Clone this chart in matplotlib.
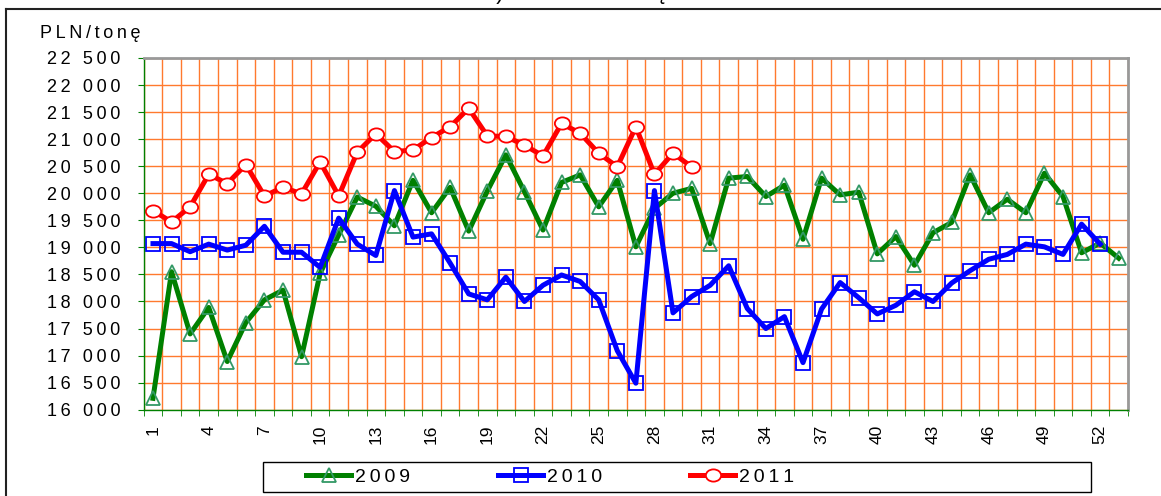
import matplotlib
matplotlib.use('Agg')
import matplotlib.pyplot as plt
from matplotlib.lines import Line2D
from matplotlib.patches import Rectangle
from matplotlib.path import Path
from matplotlib.transforms import Affine2D
from matplotlib.ticker import FixedLocator, FuncFormatter

plt.rcParams['font.family'] = ['Liberation Sans', 'DejaVu Sans']

# weekly prices, PLN per tonne
weeks_2009 = list(range(1, 54))
prices_2009 = [16210, 18550, 17400, 17890, 16890, 17610, 18030, 18210, 16980, 18520,
               19230, 19930, 19760, 19400, 20240, 19640, 20110, 19300, 20040, 20710,
               20030, 19320, 20200, 20340, 19750, 20240, 19010, 19720, 20000, 20090,
               19070, 20280, 20310, 19940, 20150, 19150, 20280, 19970, 20020, 18880,
               19200, 18670, 19270, 19460, 20340, 19640, 19890, 19640, 20370, 19940,
               18900, 19080, 18800]
weeks_2010 = list(range(1, 53))
prices_2010 = [19070, 19070, 18920, 19060, 18950, 19040, 19390, 18910, 18910, 18630,
               19540, 19060, 18850, 20050, 19190, 19250, 18710, 18140, 18030, 18450,
               18000, 18300, 18490, 18370, 18030, 17090, 16490, 20050, 17790, 18090,
               18300, 18660, 17870, 17500, 17720, 16870, 17860, 18350, 18070, 17770,
               17930, 18180, 18000, 18340, 18570, 18780, 18870, 19060, 19010, 18870,
               19430, 19060]
weeks_2011 = list(range(1, 31))
prices_2011 = [19680, 19470, 19750, 20350, 20180, 20530, 19950, 20110, 19990, 20580,
               19950, 20760, 21100, 20770, 20800, 21030, 21230, 21570, 21060, 21050,
               20890, 20690, 21290, 21110, 20740, 20490, 21230, 20350, 20740, 20490]
series_labels = ['2009', '2010', '2011']
x_tick_weeks = list(range(1, 54, 3))
y_ticks = list(range(16000, 22501, 500))

THIN = '\u2009'


def spaced(s):
    return THIN.join(s)


def price_label(v, pos):
    return spaced(f'{int(v):,}'.replace(',', ' '))


W, H = 1161, 496
fig = plt.figure(figsize=(W / 100, H / 100), dpi=100)
ax = fig.add_axes([143.7 / W, 1 - 409.7 / H, (1128 - 143.7) / W, (409.7 - 58) / H])

ellipse = Path.unit_circle().transformed(Affine2D().scale(1.25, 1.0))

ax.plot(weeks_2009, prices_2009, color='#008000', lw=3.6, marker='^', ms=9.5,
        mfc='none', mec='#339966', mew=1.3, label=spaced(series_labels[0]))
ax.plot(weeks_2010, prices_2010, color='#0000FF', lw=3.6, marker='s', ms=9.5,
        mfc='none', mec='#0000FF', mew=1.3, label=spaced(series_labels[1]))
ax.plot(weeks_2011, prices_2011, color='#FF0000', lw=3.6, marker=ellipse, ms=11,
        mfc='white', mec='#FF0000', mew=1.3, label=spaced(series_labels[2]))

ax.set_xlim(0.5, 53.5)
ax.set_ylim(16000, 22500)

ax.xaxis.set_major_locator(FixedLocator(x_tick_weeks))
ax.xaxis.set_minor_locator(FixedLocator([w + 0.5 for w in range(0, 54)]))
ax.set_xticklabels([str(w) for w in x_tick_weeks], rotation=90, fontsize=12.5)
ax.yaxis.set_major_locator(FixedLocator(y_ticks))
ax.yaxis.set_major_formatter(FuncFormatter(price_label))

ax.tick_params(axis='x', which='major', length=0, pad=11)
ax.tick_params(axis='x', which='minor', length=4, color='#008000', direction='out')
ax.tick_params(axis='y', which='major', length=4.5, color='#008000', direction='out',
               labelsize=13, pad=12.4)

ax.set_axisbelow(True)
ax.grid(which='minor', axis='x', color='#FF7A2E', lw=1.0)
ax.grid(which='major', axis='y', color='#FF7A2E', lw=1.0)
ax.grid(which='major', axis='x', visible=False)

for side in ('left', 'bottom'):
    ax.spines[side].set_color('#008000')
    ax.spines[side].set_linewidth(1.0)
for side in ('top', 'right'):
    ax.spines[side].set_color('#999999')
    ax.spines[side].set_linewidth(2.0)

fig.text(40 / W, 1 - 33 / H, spaced('PLN/tonę'), fontsize=13, ha='left', va='center')

# section heading, sitting above the frame so only its lower edge shows
fig.text(575 / W, 1 + 1 / H, 'c) rostbef z kością', fontsize=16, ha='center',
         va='baseline')

# outer frame
fig.add_artist(Line2D([6 / W, 1], [1 - 9 / H, 1 - 9 / H], transform=fig.transFigure,
                      color='#222222', lw=1.5))
fig.add_artist(Line2D([6 / W, 6 / W], [0, 1 - 9 / H], transform=fig.transFigure,
                      color='#222222', lw=1.5))

# legend box
fig.add_artist(Rectangle((263 / W, 4 / H), 828 / W, 30 / H, transform=fig.transFigure,
                         fill=False, ec='black', lw=1.0))
fs = 14
fs_px = fs * 100 / 72
fig.legend(loc='center left', bbox_to_anchor=(306 / W, 1 - 477 / H), ncol=3,
           frameon=False, borderpad=0, borderaxespad=0, fontsize=fs,
           handlelength=45 / fs_px, handletextpad=4 / fs_px,
           columnspacing=(179 - 45 - 4 - 42) / fs_px)

fig.savefig('out.png', dpi=100)
